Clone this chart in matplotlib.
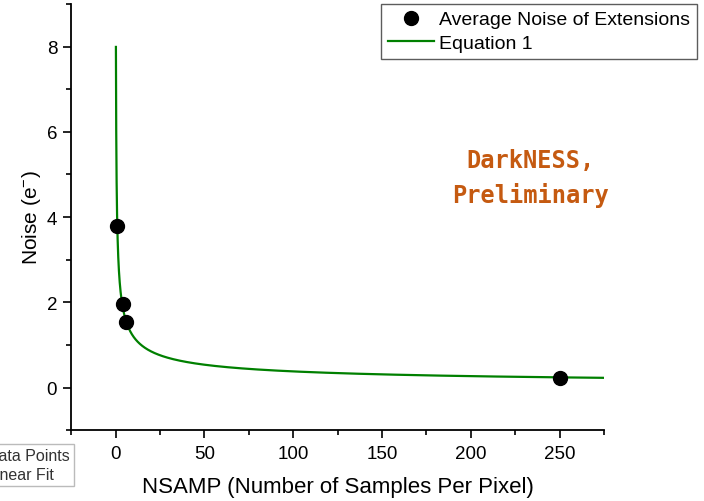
import numpy as np
import matplotlib.pyplot as plt
from matplotlib.ticker import MultipleLocator

plt.rcParams['font.family'] = ['Liberation Sans', 'DejaVu Sans']
plt.rcParams['mathtext.default'] = 'regular'

# measured points
nsamp = [1, 4, 6, 250]
noise = [3.80, 1.97, 1.53, 0.23]

# Equation 1: noise = sigma_1 / sqrt(NSAMP)
SIGMA_1 = 3.8
N_START = 0.226   # curve is drawn from where it reaches 8 e-
N_END = 275

fig = plt.figure(figsize=(7.04, 5.02), dpi=100)
ax = fig.add_axes([0.101, 0.141, 0.757, 0.849])

n_fit = np.geomspace(N_START, N_END, 600)
ax.plot(n_fit, SIGMA_1 / np.sqrt(n_fit), color='#008000', lw=1.6, label='Equation 1', zorder=2)
ax.plot(nsamp, noise, 'o', color='black', ms=10, label='Average Noise of Extensions', zorder=3)

ax.set_xlim(-25, 275)
ax.set_ylim(-1, 9)
ax.xaxis.set_major_locator(MultipleLocator(50))
ax.xaxis.set_minor_locator(MultipleLocator(25))
ax.yaxis.set_major_locator(MultipleLocator(2))
ax.yaxis.set_minor_locator(MultipleLocator(1))
ax.tick_params(which='major', direction='out', length=6, width=1.2, labelsize=13.5)
ax.tick_params(which='minor', direction='out', length=3.5, width=1.2)
ax.tick_params(axis='x', which='major', pad=5)
ax.tick_params(axis='y', which='major', pad=4)
for side in ('top', 'right'):
    ax.spines[side].set_visible(False)
for side in ('left', 'bottom'):
    ax.spines[side].set_linewidth(1.3)

ax.set_xlabel('NSAMP (Number of Samples Per Pixel)', fontsize=16, labelpad=10)
ax.set_ylabel('Noise (e$^{-}$)', fontsize=15, labelpad=3)

handles, labels = ax.get_legend_handles_labels()
leg = fig.legend(handles[::-1], labels[::-1], loc='upper right', bbox_to_anchor=(0.990, 0.990),
                 fontsize=14, frameon=True, fancybox=False, edgecolor='#333333',
                 borderpad=0.35, handlelength=2.4, handletextpad=0.25, labelspacing=0.3,
                 borderaxespad=0)
leg.get_frame().set_linewidth(1.0)

fig.text(0.754, 0.645, 'DarkNESS,\nPreliminary', family='DejaVu Sans Mono', weight='bold',
         fontsize=17, color='#C55A11', ha='center', va='center', linespacing=1.5)

# leftover legend box cut by the left edge of the picture
fig.text(0.099, 0.072, 'Data Points\nLinear Fit', ha='right', va='center', fontsize=11.5,
         color='#333333', linespacing=1.3, multialignment='left',
         bbox=dict(boxstyle='square,pad=0.25', fc='white', ec='#bbbbbb', lw=1))

fig.savefig('out.png', dpi=100)
